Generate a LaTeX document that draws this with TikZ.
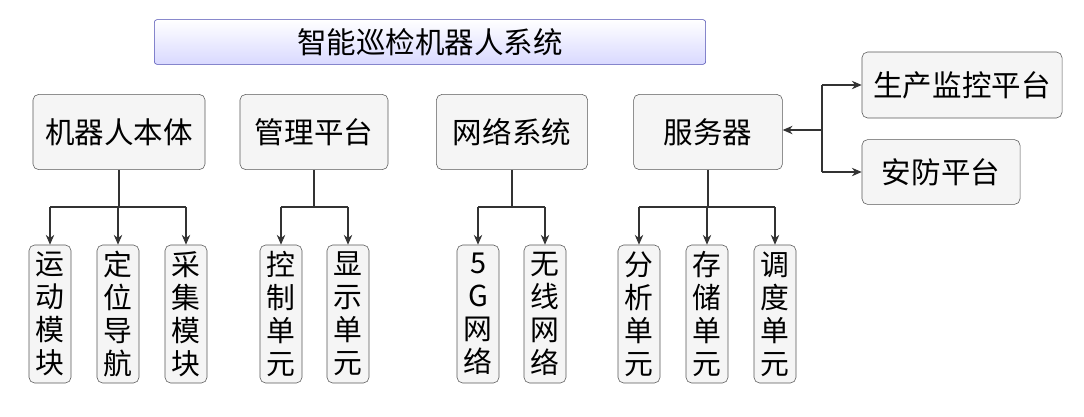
\documentclass[tikz,border=0pt]{standalone}
\usepackage{fontspec}
\setmainfont{Noto Sans CJK SC}
\usetikzlibrary{positioning,arrows.meta}
\begin{document}
\begin{tikzpicture}[x=0.025cm,y=-0.025cm,
  box/.style={draw=gray!70!black,fill=gray!8,rounded corners=4pt,inner sep=0pt,font=\fontsize{21}{23}\selectfont},
  leaf/.style={box,minimum width=1.05cm,minimum height=3.45cm,align=center,font=\fontsize{20.5}{23.5}\selectfont},
  arr/.style={-{Stealth[length=7pt,width=6pt]},draw=gray!40!black,line width=0.8pt},
  ln/.style={draw=gray!40!black,line width=0.8pt}]
\useasboundingbox (0,0) rectangle (1084,416);

\node[box,rounded corners=2pt,top color=white,bottom color=blue!15,draw=blue!40!gray,minimum width=13.78cm,minimum height=1.12cm] (Ti) at (430,42) {智能巡检机器人系统};

\node[box,minimum width=4.3cm,minimum height=1.88cm] (RoBo) at (119,132) {机器人本体};
\node[box,minimum width=3.7cm,minimum height=1.88cm] (MaPl) at (314,132) {管理平台};
\node[box,minimum width=3.78cm,minimum height=1.88cm] (NeSy) at (512,132) {网络系统};
\node[box,minimum width=3.72cm,minimum height=1.88cm] (Se) at (708,132) {服务器};
\node[box,minimum width=5cm,minimum height=1.65cm] (PrMo) at (962,85) {生产监控平台};
\node[box,minimum width=3.95cm,minimum height=1.62cm] (SePl) at (941,172) {安防平台};

\node[leaf] (YuDo) at (50,314) {运\\动\\模\\块};
\node[leaf] (DiWe) at (118,314) {定\\位\\导\\航};
\node[leaf] (CaJi) at (186,314) {采\\集\\模\\块};
\node[leaf] (KoZh) at (281,314) {控\\制\\单\\元};
\node[leaf] (XiSh) at (348,314) {显\\示\\单\\元};
\node[leaf] (FiGe) at (478,314) {5\\G\\网\\络};
\node[leaf] (WuXi) at (545,314) {无\\线\\网\\络};
\node[leaf] (FeXi) at (639,314) {分\\析\\单\\元};
\node[leaf] (CuCh) at (707,314) {存\\储\\单\\元};
\node[leaf] (DiDu) at (775,314) {调\\度\\单\\元};

% robot body
\draw[ln] (RoBo.south) -- (RoBo.south |- 0,207) coordinate (b1);
\draw[ln] (YuDo.north |- b1) -- (CaJi.north |- b1);
\foreach \n in {YuDo,DiWe,CaJi} \draw[arr] (\n.north |- b1) -- (\n.north);
% platform
\draw[ln] (MaPl.south) -- (MaPl.south |- 0,207) coordinate (b2);
\draw[ln] (KoZh.north |- b2) -- (XiSh.north |- b2);
\foreach \n in {KoZh,XiSh} \draw[arr] (\n.north |- b2) -- (\n.north);
% network
\draw[ln] (NeSy.south) -- (NeSy.south |- 0,207) coordinate (b3);
\draw[ln] (FiGe.north |- b3) -- (WuXi.north |- b3);
\foreach \n in {FiGe,WuXi} \draw[arr] (\n.north |- b3) -- (\n.north);
% server
\draw[ln] (Se.south) -- (Se.south |- 0,207) coordinate (b4);
\draw[ln] (FeXi.north |- b4) -- (DiDu.north |- b4);
\foreach \n in {FeXi,CuCh,DiDu} \draw[arr] (\n.north |- b4) -- (\n.north);

\coordinate (Sp) at (822,130);
\draw[arr] (Sp) -- (Se.east |- Sp);
\draw[ln] (Sp |- PrMo.west) -- (Sp |- SePl.west);
\draw[arr] (Sp |- PrMo.west) -- (PrMo.west);
\draw[arr] (Sp |- SePl.west) -- (SePl.west);
\end{tikzpicture}
\end{document}
